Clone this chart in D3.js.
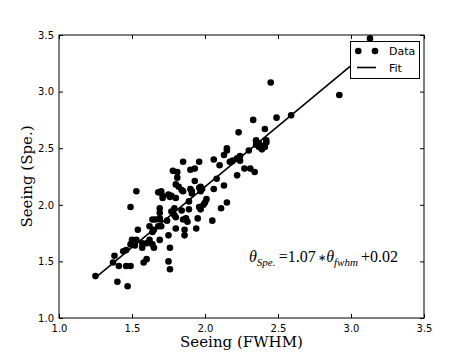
<!DOCTYPE html>
<html><head><meta charset="utf-8">
<script src="https://cdn.jsdelivr.net/npm/d3@7"></script>
<style>body{margin:0;background:#fff}svg{display:block}</style>
</head><body><svg id="c" width="472" height="354"></svg>
<script>
const xTicks = [1.0, 1.5, 2.0, 2.5, 3.0, 3.5];
const yTicks = [1.0, 1.5, 2.0, 2.5, 3.0, 3.5];
const xLabel = "Seeing (FWHM)";
const yLabel = "Seeing (Spe.)";
const fitSlope = 1.07;
const fitIntercept = 0.02;
const seeingFwhm = [1.25,1.38,1.37,1.41,1.40,1.47,1.46,1.49,1.44,1.46,1.49,1.50,1.53,1.52,1.54,1.49,1.53,1.57,1.58,1.60,1.57,1.60,1.62,1.64,1.66,1.62,1.64,1.65,1.64,1.65,1.68,1.69,1.69,1.70,1.69,1.69,1.69,1.68,1.70,1.71,1.71,1.74,1.75,1.76,1.75,1.76,1.75,1.76,1.77,1.77,1.78,1.79,1.79,1.80,1.80,1.78,1.81,1.81,1.80,1.82,1.84,1.85,1.80,1.84,1.85,1.86,1.86,1.85,1.87,1.88,1.89,1.89,1.90,1.90,1.91,1.91,1.93,1.93,1.94,1.96,1.95,1.96,1.97,1.98,1.97,1.96,1.97,1.99,2.00,2.01,2.05,2.06,2.06,2.08,2.10,2.11,2.13,2.13,2.15,2.15,2.15,2.17,2.18,2.19,2.22,2.22,2.23,2.24,2.24,2.27,2.30,2.31,2.33,2.34,2.35,2.35,2.35,2.37,2.37,2.39,2.40,2.41,2.41,2.42,2.42,2.45,2.49,2.59,2.92,3.13];
const seeingSpe = [1.37,1.55,1.49,1.46,1.32,1.28,1.46,1.46,1.59,1.60,1.65,1.69,1.69,1.64,1.78,1.98,2.12,1.62,1.49,1.52,1.66,1.66,1.81,1.87,1.87,1.69,1.65,1.62,1.76,1.78,1.81,1.87,1.69,1.81,1.97,1.93,1.88,2.11,2.12,2.08,2.06,1.86,1.73,1.62,1.50,1.43,2.09,2.07,2.08,1.94,1.93,1.91,1.97,1.79,1.89,2.30,2.29,2.24,2.18,2.16,2.13,2.12,2.06,1.95,2.38,1.73,1.78,1.87,1.88,1.85,1.96,2.03,2.14,2.31,2.12,2.10,2.21,2.32,1.79,2.38,1.88,2.15,2.16,2.14,2.12,1.98,1.96,2.00,2.02,2.05,1.86,2.40,2.14,2.23,2.35,1.97,2.44,2.17,2.50,2.48,2.02,2.38,2.38,2.39,2.41,2.26,2.64,2.43,2.39,2.32,2.48,2.32,2.75,2.29,2.56,2.57,2.53,2.51,2.54,2.49,2.52,2.51,2.67,2.55,2.57,3.08,2.77,2.79,2.97,3.47];

const svg = d3.select("#c");
const L = 59, R = 424, T = 35, B = 318;
const x = d3.scaleLinear().domain([1.0, 3.5]).range([L, R]);
const y = d3.scaleLinear().domain([1.0, 3.5]).range([B, T]);
const sans = "'DejaVu Sans', sans-serif";
const serif = "'DejaVu Serif', serif";

// points
svg.append("g").selectAll("circle").data(seeingFwhm).join("circle")
  .attr("cx", d => x(d)).attr("cy", (d, i) => y(seeingSpe[i]))
  .attr("r", 3.3).attr("fill", "#000");

// fit line
const xMin = d3.min(seeingFwhm), xMax = d3.max(seeingFwhm);
svg.append("line")
  .attr("x1", x(xMin)).attr("y1", y(fitSlope * xMin + fitIntercept))
  .attr("x2", x(xMax)).attr("y2", y(fitSlope * xMax + fitIntercept))
  .attr("stroke", "#000").attr("stroke-width", 1.6);

// axes (ticks inward, mirrored)
const tl = 4;
const ax = d3.axisBottom(x).tickValues(xTicks).tickFormat(d3.format(".1f")).tickSizeInner(-tl).tickSizeOuter(0).tickPadding(7);
const gx = svg.append("g").attr("transform", `translate(0,${B})`).call(ax);
const ay = d3.axisLeft(y).tickValues(yTicks).tickFormat(d3.format(".1f")).tickSizeInner(-tl).tickSizeOuter(0).tickPadding(5);
const gy = svg.append("g").attr("transform", `translate(${L},0)`).call(ay);
const axT = d3.axisTop(x).tickValues(xTicks).tickFormat("").tickSizeInner(-tl).tickSizeOuter(0);
const gxt = svg.append("g").attr("transform", `translate(0,${T})`).call(axT);
const ayR = d3.axisRight(y).tickValues(yTicks).tickFormat("").tickSizeInner(-tl).tickSizeOuter(0);
const gyr = svg.append("g").attr("transform", `translate(${R},0)`).call(ayR);
[gx, gy, gxt, gyr].forEach(g => {
  g.select(".domain").remove();
  g.selectAll("line").attr("stroke", "#000");
  g.selectAll("text").attr("font-family", sans).attr("font-size", 10).attr("fill", "#000");
});
gx.selectAll("text").attr("dy", "0.71em");

// frame
svg.append("rect").attr("x", L).attr("y", T).attr("width", R - L).attr("height", B - T)
  .attr("fill", "none").attr("stroke", "#000").attr("stroke-width", 1);

// axis titles
svg.append("text").attr("x", (L + R) / 2).attr("y", 347).attr("text-anchor", "middle")
  .attr("font-family", serif).attr("font-size", 15).attr("fill", "#000").text(xLabel);
svg.append("text").attr("transform", `translate(32,${(T + B) / 2}) rotate(-90)`).attr("text-anchor", "middle")
  .attr("font-family", serif).attr("font-size", 15).attr("fill", "#000").text(yLabel);

// equation annotation
const eq = svg.append("text").attr("x", 249).attr("y", 262)
  .attr("font-family", "'Liberation Serif', serif").attr("font-size", 16).attr("fill", "#000");
eq.append("tspan").attr("font-style", "italic").text("θ");
eq.append("tspan").attr("font-style", "italic").attr("font-size", 11).attr("dy", 3.5).text("Spe.");
eq.append("tspan").attr("dy", -3.5).text("\u2009=1.07");
eq.append("tspan").attr("font-family", sans).attr("font-size", 10).attr("dy", -1).text("\u2009∗");
eq.append("tspan").attr("font-style", "italic").attr("dy", 1).text("θ");
eq.append("tspan").attr("font-style", "italic").attr("font-size", 11).attr("dy", 3.5).text("fwhm");
eq.append("tspan").attr("dy", -3.5).text("\u2009+0.02");

// legend
const lg = svg.append("g");
lg.append("rect").attr("x", 350.5).attr("y", 41.5).attr("width", 69).attr("height", 37)
  .attr("fill", "#fff").attr("stroke", "#000").attr("stroke-width", 1);
[358.3, 375].forEach(cx => lg.append("circle").attr("cx", cx).attr("cy", 51).attr("r", 3.3).attr("fill", "#000"));
lg.append("text").attr("x", 389).attr("y", 55).attr("font-family", sans).attr("font-size", 11).text("Data");
lg.append("line").attr("x1", 357).attr("x2", 376).attr("y1", 67.5).attr("y2", 67.5).attr("stroke", "#000").attr("stroke-width", 1.6);
lg.append("text").attr("x", 389).attr("y", 71.5).attr("font-family", sans).attr("font-size", 11).text("Fit");
</script></body></html>
